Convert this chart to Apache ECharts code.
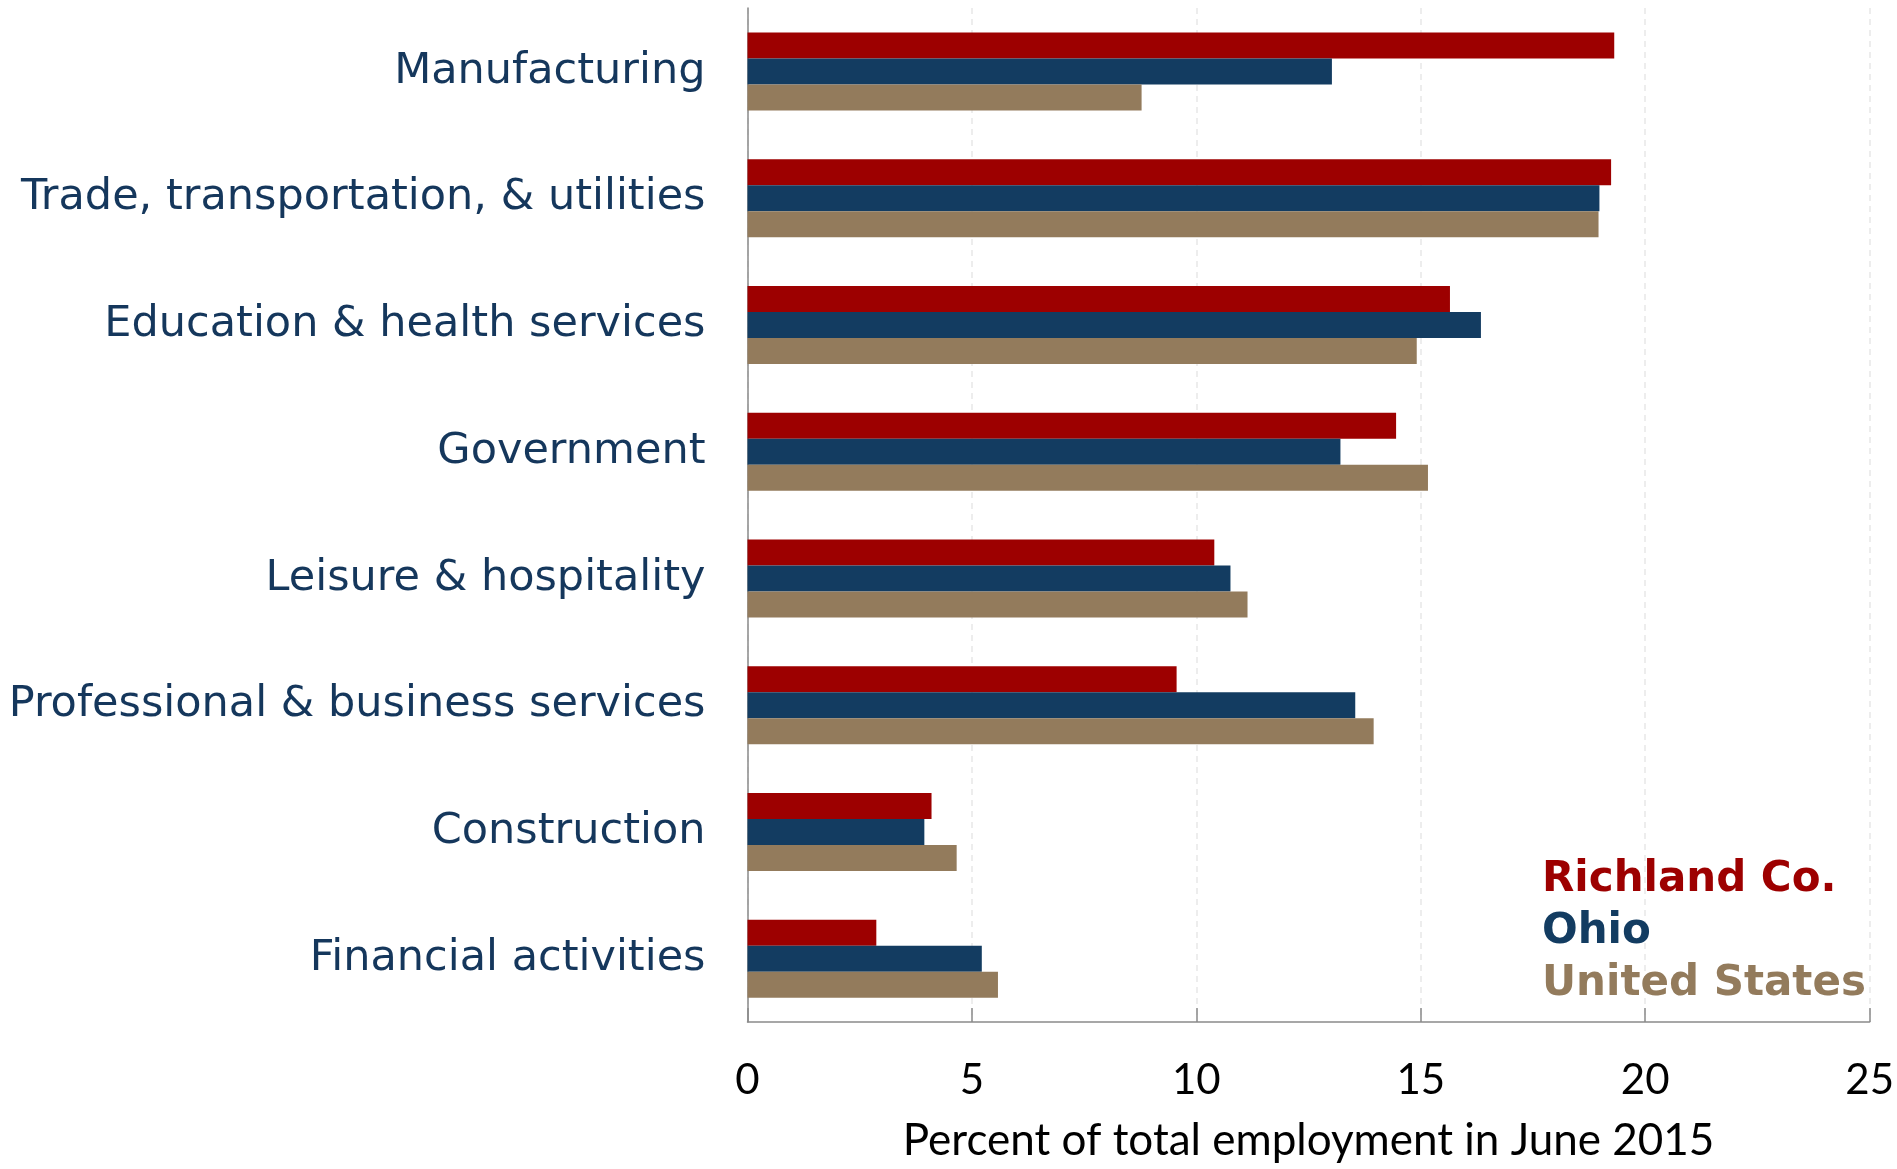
<!DOCTYPE html>
<html><head><meta charset="utf-8">
<script src="https://cdn.jsdelivr.net/npm/echarts@6/dist/echarts.min.js"></script>
<style>html,body{margin:0;padding:0;background:#fff}#c{width:1897px;height:1169px}</style>
</head><body><div id="c"></div>
<script>
const categories = ["Manufacturing","Trade, transportation, & utilities","Education & health services","Government","Leisure & hospitality","Professional & business services","Construction","Financial activities"];
const richland = [19.31,19.24,15.65,14.45,10.40,9.56,4.10,2.87];
const ohio     = [13.02,18.98,16.34,13.21,10.76,13.54,3.94,5.22];
const us       = [8.78,18.96,14.91,15.16,11.14,13.95,4.66,5.58];
const xTicks = [0,5,10,15,20,25];
const seriesNames = ["Richland Co.","Ohio","United States"];
const colors = ["#9d0000","#133c61","#937b5c"];

const chart = echarts.init(document.getElementById('c'));
chart.setOption({
  animation:false,
  backgroundColor:'#fff',
  grid:{left:747.5,top:8,width:1125.5,height:1014,containLabel:false},
  legend:{
    orient:'vertical', left:1537, top:854, icon:'none', itemWidth:0, itemHeight:0, itemGap:0, padding:0,
    selectedMode:false,
    textStyle:{fontFamily:'DejaVu Sans',fontWeight:'bold',fontSize:42,lineHeight:52,padding:0},
    data:seriesNames.map((n,i)=>({name:n,textStyle:{color:colors[i]}}))
  },
  xAxis:{
    type:'value', min:xTicks[0], max:xTicks[xTicks.length-1], interval:5,
    axisLine:{show:true,lineStyle:{color:'#8a8a8a',width:1.5}},
    axisTick:{show:true,inside:true,length:14,lineStyle:{color:'#8a8a8a',width:1.5}},
    splitLine:{show:true,lineStyle:{color:'#e8e8e8',type:[6,5],width:1.5}},
    axisLabel:{color:'#000',fontFamily:'Lato',fontSize:42,margin:37},
    name:'Percent of total employment in June 2015', nameLocation:'middle', nameGap:97,
    nameTextStyle:{color:'#000',fontFamily:'Lato',fontSize:44}
  },
  yAxis:{
    type:'category', data:categories, inverse:true,
    axisLine:{show:true,lineStyle:{color:'#8a8a8a',width:1.5}},
    axisTick:{show:false},
    axisLabel:{color:'#15375c',fontFamily:'DejaVu Sans',fontSize:43,margin:42,padding:[12,0,0,0]}
  },
  series:[richland,ohio,us].map((d,i)=>({
    name:seriesNames[i], type:'bar', data:d, barWidth:26, barGap:'0%',
    itemStyle:{color:colors[i]}
  }))
});
</script></body></html>
